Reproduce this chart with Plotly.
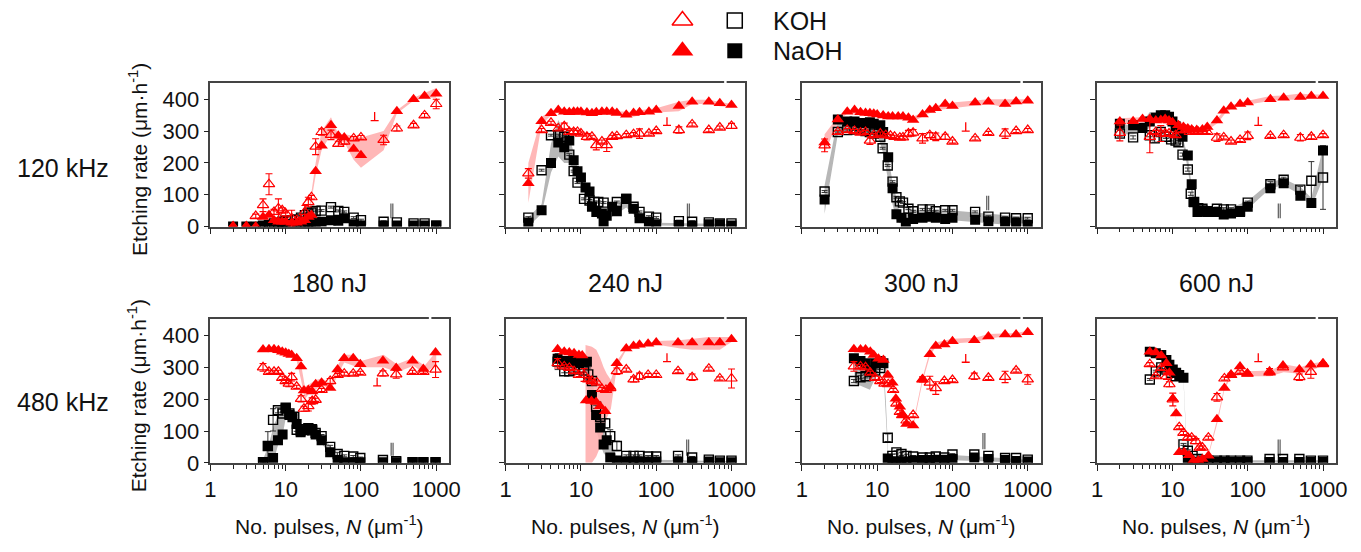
import plotly.graph_objects as go

# ---------------- DATA ----------------
# Panel a: 120 kHz, 180 nJ
a_kt_N = [2, 3, 4, 5, 6, 7, 8, 9, 10, 12, 14, 16, 18, 20, 22, 25, 30, 40, 50, 60, 80, 100, 200, 300, 500, 700, 1000]
a_kt = [0, 0, 33, 67, 133, 46, 57, 51, 41, 26, 20, 20, 46, 77, 92, 251, 297, 288, 260, 267, 277, 280, 272, 308, 318, 349, 385]
a_kt_err = [2, 2, 6, 20, 33, 8, 30, 8, 8, 25, 6, 6, 20, 15, 6, 25, 10, 15, 8, 8, 6, 6, 15, 8, 6, 6, 15]
a_nt_N = [2, 3, 4, 5, 6, 7, 8, 9, 10, 12, 14, 16, 18, 20, 22, 25, 30, 40, 50, 60, 80, 100, 300, 500, 700, 1000]
a_nt = [0, 0, 0, 30, 36, 20, 15, 15, 15, 12, 12, 15, 20, 30, 36, 174, 254, 318, 285, 280, 244, 224, 362, 400, 410, 417]
a_ks_N = [5, 6, 7, 8, 9, 10, 12, 14, 16, 18, 20, 22, 25, 30, 40, 50, 60, 80, 100, 200, 300, 500, 700, 1000]
a_ks = [3, 5, 10, 12, 15, 18, 20, 22, 28, 36, 41, 44, 49, 50, 61, 49, 46, 28, 20, 15, 13, 10, 10, 3]
a_ns_N = [2, 3, 4, 5, 6, 7, 8, 9, 10, 12, 14, 16, 18, 20, 22, 25, 30, 40, 50, 60, 80, 100, 200, 300, 500, 700, 1000]
a_ns = [0, 0, 0, 2, 3, 4, 5, 6, 8, 5, 8, 8, 10, 10, 10, 10, 15, 20, 18, 26, 7, 3, 3, 3, 3, 3, 3]
a_pink_N = [20, 25, 30, 40, 50, 60, 80, 100, 200, 300, 500, 700, 1000]
a_pink_lo = [25, 160, 240, 290, 270, 265, 210, 185, 240, 355, 395, 405, 405]
a_pink_hi = [40, 200, 300, 343, 290, 290, 285, 280, 300, 365, 405, 420, 435]
a_grey_N, a_grey_lo, a_grey_hi = [], [], []

# Panel b: 120 kHz, 240 nJ
b_nt_N = [2, 3, 4, 5, 6, 7, 8, 9, 10, 12, 14, 16, 19, 22, 26, 30, 40, 50, 60, 80, 100, 200, 300, 500, 700, 1000]
b_nt = [136, 331, 356, 366, 361, 359, 361, 361, 361, 358, 356, 359, 361, 361, 361, 357, 351, 357, 359, 361, 366, 379, 392, 392, 387, 382]
b_kt_N = b_nt_N
b_kt = [167, 303, 326, 308, 315, 297, 297, 297, 292, 282, 282, 256, 267, 256, 282, 284, 287, 290, 292, 292, 300, 303, 321, 303, 311, 316]
b_kt_err = [15, 5, 5, 5, 10, 5, 10, 5, 5, 10, 5, 15, 5, 20, 5, 5, 5, 5, 15, 5, 5, 10, 5, 5, 5, 8]
b_ks_N = [2, 3, 4, 5, 6, 7, 8, 9, 11, 13, 15, 17, 20, 30, 40, 50, 60, 80, 100, 200, 300, 500, 700, 1000]
b_ks = [28, 177, 287, 287, 282, 226, 174, 138, 87, 82, 77, 77, 75, 77, 87, 62, 46, 31, 28, 17, 15, 13, 10, 10]
b_ns_N = [2, 3, 4, 5, 6, 7, 8, 9, 10, 11.5, 13, 14, 16, 19, 20, 22, 26, 30, 40, 50, 60, 80, 100, 200, 300, 500, 700, 1000]
b_ns = [13, 51, 200, 264, 249, 270, 208, 174, 154, 123, 110, 62, 46, 41, 15, 34, 62, 48, 87, 56, 26, 15, 7, 5, 3, 7, 7, 3]
b_pink_N = [2, 3, 4, 5, 10, 20, 30, 40, 50, 60, 100, 200, 300, 500, 700, 1000]
b_pink_lo = [75, 320, 350, 358, 355, 355, 350, 345, 345, 350, 358, 362, 385, 385, 378, 375]
b_pink_hi = [200, 345, 362, 370, 365, 365, 362, 360, 360, 365, 372, 392, 398, 398, 392, 385]
b_grey_N = [2, 3, 4, 5, 6, 7, 8, 9, 10, 12, 14, 20, 30, 40, 60, 100, 1000]
b_grey_lo = [0, 40, 170, 220, 200, 200, 180, 160, 140, 100, 50, 15, 40, 60, 20, 3, 0]
b_grey_hi = [30, 70, 260, 335, 300, 290, 230, 185, 160, 130, 75, 45, 65, 95, 40, 12, 8]

# Panel c: 120 kHz, 300 nJ
c_nt_N = [2, 3, 4, 5, 6, 7, 8, 9, 10, 12, 14, 16, 19, 22, 26, 30, 40, 50, 60, 80, 100, 200, 300, 500, 700, 1000]
c_nt = [264, 336, 361, 366, 359, 357, 356, 354, 352, 349, 346, 346, 346, 346, 342, 335, 352, 366, 372, 385, 379, 390, 392, 385, 393, 395]
c_kt_N = [2, 3, 4, 5, 6, 7, 8, 9, 11, 13, 15, 17, 20, 22, 26, 30, 40, 50, 60, 80, 100, 200, 300, 500, 700, 1000]
c_kt = [255, 297, 303, 300, 295, 297, 270, 287, 292, 287, 285, 282, 279, 280, 292, 295, 277, 287, 282, 282, 267, 277, 294, 292, 300, 303]
c_kt_err = [20, 5, 5, 5, 5, 5, 12, 5, 5, 5, 5, 5, 5, 5, 10, 10, 15, 8, 12, 8, 5, 5, 5, 15, 5, 5]
c_ks_N = [2, 3, 4, 5, 6, 7, 8, 9, 11, 11.8, 13.8, 16, 18, 20, 22, 26, 30, 40, 50, 60, 80, 100, 200, 300, 500, 700, 1000]
c_ks = [110, 297, 303, 305, 308, 300, 297, 292, 282, 246, 192, 141, 92, 79, 75, 56, 48, 54, 54, 48, 51, 51, 46, 31, 28, 26, 26]
c_ns_N = [2, 3, 4, 5, 6, 7, 8, 9, 11, 12, 14, 16, 18, 21, 24, 30, 40, 50, 60, 80, 100, 200, 300, 500, 700, 1000]
c_ns = [85, 336, 330, 330, 325, 325, 328, 323, 318, 297, 218, 120, 39, 28, 12, 24, 28, 31, 28, 24, 28, 21, 17, 15, 13, 5]
c_pink_N = [2, 3, 4, 10, 20, 30, 40, 60, 100, 200, 300, 500, 700, 1000]
c_pink_lo = [230, 330, 355, 345, 340, 330, 345, 365, 370, 380, 385, 375, 385, 390]
c_pink_hi = [290, 345, 365, 358, 352, 345, 360, 380, 390, 395, 400, 400, 400, 400]
c_grey_N = [2, 3, 4, 6, 8, 10, 11, 12, 14, 16, 18, 20, 30, 100, 1000]
c_grey_lo = [40, 290, 300, 300, 295, 285, 260, 230, 150, 70, 20, 10, 20, 20, 0]
c_grey_hi = [130, 340, 335, 330, 330, 325, 315, 300, 220, 140, 90, 40, 50, 50, 30]

# Panel d: 120 kHz, 600 nJ
d_nt_N = [2, 3, 4, 5, 6, 7, 8, 9, 10, 12, 14, 16, 18, 21, 25, 29, 39, 48, 60, 79, 100, 200, 300, 500, 700, 1000]
d_nt = [330, 331, 338, 338, 333, 335, 338, 333, 328, 318, 313, 308, 305, 303, 305, 313, 333, 364, 376, 385, 390, 400, 405, 407, 410, 410]
d_kt_N = [2, 5, 6, 7, 8, 9, 11, 13, 15, 17, 19, 22, 25, 29, 39, 48, 60, 79, 100, 200, 300, 500, 700, 1000]
d_kt = [294, 282, 297, 292, 292, 292, 287, 303, 303, 297, 297, 297, 297, 297, 279, 280, 267, 272, 285, 285, 287, 279, 282, 287]
d_kt_err = [25, 50, 5, 25, 8, 5, 5, 5, 5, 8, 5, 5, 5, 5, 12, 5, 5, 5, 12, 5, 5, 10, 6, 5]
d_ks_N = [2, 3, 5, 5.8, 7, 8.2, 9.6, 11, 12, 13.6, 16, 17.5, 19.4, 22, 25, 29, 39, 48, 60, 79, 100, 200, 300, 500, 700, 1000]
d_ks = [292, 280, 287, 277, 297, 282, 274, 270, 265, 226, 179, 103, 77, 58, 56, 48, 56, 54, 54, 48, 75, 133, 147, 116, 144, 154]
d_ks_err = [10, 5, 5, 12, 5, 5, 5, 5, 5, 5, 5, 5, 5, 5, 5, 5, 5, 5, 5, 5, 5, 8, 8, 10, 60, 100]
d_ns_N = [2, 3, 4, 5, 6, 7, 8, 9, 10, 11, 12, 13.6, 16, 18, 19, 21.5, 25, 29, 39, 48, 60, 79, 100, 200, 300, 500, 700, 1000]
d_ns = [323, 318, 310, 330, 342, 350, 350, 345, 330, 315, 305, 282, 223, 133, 77, 46, 51, 46, 46, 38, 41, 46, 62, 120, 136, 97, 74, 239]
d_pink_N = [2, 5, 10, 20, 30, 40, 50, 60, 100, 200, 300, 500, 700, 1000]
d_pink_lo = [320, 330, 320, 298, 305, 325, 355, 370, 383, 395, 398, 398, 405, 405]
d_pink_hi = [340, 345, 340, 310, 318, 340, 370, 382, 395, 410, 412, 418, 415, 415]
d_grey_N = [2, 3, 4, 5, 6, 7, 8, 9, 10, 11, 12, 14, 16, 18, 20, 25, 40, 60, 100, 200, 300, 500, 700, 1000]
d_grey_lo = [290, 290, 300, 310, 330, 330, 330, 320, 315, 300, 280, 250, 180, 100, 55, 40, 40, 35, 55, 120, 130, 100, 60, 150]
d_grey_hi = [320, 320, 330, 360, 360, 355, 350, 345, 335, 320, 300, 270, 220, 130, 80, 60, 60, 60, 80, 140, 150, 125, 90, 250]

# Panel e: 480 kHz, 180 nJ
e_nt_N = [5, 6, 7, 8, 9, 10, 11, 12, 14, 16, 17.5, 20, 22.5, 25, 30, 39, 49, 60, 79, 98, 196, 294, 485, 675, 980]
e_nt = [356, 357, 357, 354, 349, 346, 342, 339, 329, 303, 227, 229, 224, 247, 252, 235, 293, 329, 329, 310, 321, 298, 321, 295, 347]
e_kt_N = e_nt_N
e_kt = [300, 286, 286, 286, 267, 257, 249, 269, 239, 201, 170, 178, 194, 198, 229, 257, 276, 280, 280, 283, 281, 278, 286, 286, 293]
e_kt_err = [12, 5, 5, 5, 5, 5, 10, 12, 5, 10, 8, 15, 10, 5, 5, 8, 5, 5, 5, 5, 8, 12, 5, 5, 25]
e_ks_N = [5, 5.8, 6.8, 7.9, 9.1, 10, 11.2, 13, 14, 15.8, 17.5, 20, 22.5, 25, 30, 39, 49, 60, 79, 98, 196, 294, 485, 675, 980]
e_ks = [2, 53, 135, 165, 155, 173, 155, 145, 104, 102, 106, 109, 102, 94, 84, 50, 28, 22, 20, 15, 9, 5, 2, 2, 2]
e_ks_err = [2, 45, 35, 8, 5, 5, 5, 5, 5, 5, 5, 5, 5, 5, 5, 5, 5, 3, 3, 3, 3, 3, 2, 2, 2]
e_ns_N = [5, 5.8, 6.8, 7.9, 9.1, 10, 11.2, 12.3, 14, 15.8, 17.5, 20, 22.5, 25, 30, 39, 49, 60, 79, 98, 196, 294, 485, 675, 980]
e_ns = [2, 53, 15, 71, 89, 170, 150, 143, 122, 96, 102, 104, 106, 89, 71, 33, 9, 2, 2, 2, 2, 2, 2, 2, 2]
e_pink_N = [5, 10, 14, 16, 18, 20, 25, 30, 40, 50, 60, 80, 100, 200, 300, 500, 700, 1000]
e_pink_lo = [350, 340, 320, 260, 200, 215, 230, 245, 230, 280, 315, 305, 300, 300, 285, 305, 280, 310]
e_pink_hi = [362, 352, 335, 310, 240, 245, 260, 265, 250, 310, 340, 340, 320, 340, 310, 330, 305, 350]
e_grey_N = [5, 6, 7, 8, 9, 10, 11, 12, 14, 16, 18, 20, 25, 30, 40, 50, 60, 80, 100]
e_grey_lo = [0, 0, 10, 60, 80, 140, 130, 130, 100, 80, 95, 90, 80, 60, 25, 5, 0, 0, 0]
e_grey_hi = [10, 60, 120, 150, 160, 175, 165, 150, 130, 115, 115, 110, 100, 85, 50, 25, 15, 8, 5]

# Panel f: 480 kHz, 240 nJ
f_nt_N = [4.9, 6, 7, 8.1, 9.4, 10.4, 11.7, 13.8, 15.9, 18, 21, 24.5, 30, 40, 50, 60, 78, 100, 195, 300, 500, 700, 1000]
f_nt = [357, 349, 347, 344, 339, 337, 196, 194, 191, 178, 162, 239, 313, 359, 367, 371, 374, 378, 378, 378, 378, 378, 388]
f_kt_N = [4.9, 6, 7, 8.1, 9.4, 11, 12.5, 14, 16.3, 19, 21.5, 24.5, 30, 40, 50, 60, 78, 100, 195, 300, 500, 700, 1000]
f_kt = [313, 303, 298, 288, 276, 276, 262, 257, 252, 232, 229, 235, 288, 293, 262, 272, 276, 276, 288, 269, 296, 265, 265]
f_kt_err = [15, 5, 5, 5, 5, 20, 5, 5, 5, 5, 5, 5, 10, 5, 8, 10, 5, 5, 5, 10, 5, 5, 30]
f_ks_N = [4.9, 6, 7, 8.1, 9.4, 11, 12.5, 14, 15.9, 18, 21, 24.5, 30, 40, 50, 60, 78, 100, 195, 300, 500, 700, 1000]
f_ks = [318, 288, 288, 293, 298, 290, 278, 257, 176, 145, 124, 84, 53, 22, 22, 22, 20, 20, 22, 17, 10, 7, 7]
f_ks_err = [25, 5, 5, 5, 5, 5, 20, 5, 5, 15, 15, 20, 15, 3, 3, 3, 3, 3, 3, 3, 3, 3, 3]
f_ns_N = [4.9, 6, 7, 8.1, 9.4, 11, 12, 14, 15.9, 18, 20, 22, 24.5, 30, 40, 50, 60, 78, 100, 195, 300, 500, 700, 1000]
f_ns = [327, 320, 316, 320, 313, 315, 318, 213, 150, 111, 58, 71, 17, 7, 4, 4, 4, 4, 4, 4, 4, 4, 2, 2]
f_pink_N = [11.5, 14, 16, 18, 20, 22, 25, 30, 40, 100, 200, 300, 500, 700, 1000]
f_pink_lo = [0, 0, 20, 50, 100, 140, 170, 300, 355, 372, 360, 355, 355, 355, 380]
f_pink_hi = [370, 365, 355, 330, 300, 280, 260, 320, 362, 383, 385, 390, 395, 395, 395]
f_grey_N = [5, 8, 11, 12, 14, 16, 18, 20, 25, 30, 40, 100, 1000]
f_grey_lo = [310, 300, 300, 250, 150, 100, 60, 30, 5, 0, 0, 0, 0]
f_grey_hi = [330, 325, 320, 320, 260, 190, 150, 110, 60, 20, 10, 10, 5]

# Panel g: 480 kHz, 300 nJ
g_nt_N = [4.9, 6, 7, 8.1, 9, 10.4, 12.1, 13.8, 15.9, 17.7, 20, 22, 24.5, 30, 40, 50, 60, 78, 100, 195, 300, 500, 700, 1000]
g_nt = [357, 356, 356, 349, 339, 327, 323, 276, 252, 201, 176, 150, 122, 117, 262, 341, 367, 372, 382, 385, 397, 403, 403, 410]
g_kt_N = [4.9, 6, 7, 8.1, 9.4, 11, 12.5, 14, 16.3, 18, 20, 21.5, 24.5, 30, 40, 50, 60, 78, 100, 195, 300, 500, 700, 1000]
g_kt = [303, 303, 300, 283, 267, 257, 249, 247, 229, 186, 160, 150, 133, 150, 262, 252, 235, 257, 260, 272, 267, 270, 290, 262]
g_kt_err = [15, 5, 5, 5, 5, 5, 5, 5, 5, 5, 5, 5, 5, 5, 8, 20, 20, 5, 5, 10, 5, 18, 5, 15]
g_ks_N = [4.9, 6, 7, 8.1, 9.4, 11, 13.8, 15.9, 18, 21, 24.5, 30, 40, 50, 60, 78, 100, 195, 300, 500, 700, 1000]
g_ks = [257, 269, 272, 288, 290, 298, 79, 22, 33, 28, 22, 20, 17, 17, 20, 17, 26, 26, 22, 15, 15, 10]
g_ks_err = [5, 5, 5, 5, 5, 5, 12, 5, 5, 5, 5, 3, 3, 3, 3, 3, 3, 3, 3, 3, 3, 3]
g_ns_N = [4.9, 6, 7, 8.1, 9.4, 11, 12.1, 13.8, 15.9, 18, 21, 24.5, 30, 40, 50, 60, 78, 100, 195, 300, 500, 700, 1000]
g_ns = [329, 320, 313, 286, 313, 320, 313, 14, 2, 2, 4, 4, 7, 9, 9, 10, 10, 12, 17, 12, 9, 6, 4]
g_pink_N = [10, 12, 14, 16, 18, 20, 22, 25, 30, 40, 50, 60, 100, 200, 300, 500, 700, 1000]
g_pink_lo = [322, 318, 270, 245, 195, 170, 145, 117, 112, 255, 335, 365, 375, 380, 390, 398, 400, 403]
g_pink_hi = [332, 328, 282, 258, 207, 182, 157, 128, 125, 268, 350, 378, 390, 393, 405, 408, 408, 415]
g_grey_N = [5, 8, 11, 12, 13, 14, 20, 100, 1000]
g_grey_lo = [250, 230, 300, 300, 150, 10, 0, 8, 0]
g_grey_hi = [330, 320, 320, 320, 200, 30, 10, 25, 10]

# Panel h: 480 kHz, 600 nJ
h_nt_N = [5, 6, 7.1, 8.3, 9.1, 10.1, 11.2, 12.3, 14.3, 16.6, 19, 22, 25, 30, 39, 49, 60, 79, 99, 195, 294, 485, 690, 1000]
h_nt = [349, 347, 337, 313, 283, 201, 155, 33, 33, 24, 7, 7, 12, 22, 137, 235, 276, 303, 280, 283, 306, 293, 308, 313]
h_kt_N = [5, 6, 7.1, 8.3, 9.1, 10.1, 12.3, 14, 16, 18, 20.5, 23, 25, 30, 39, 49, 60, 79, 99, 195, 294, 485, 690, 1000]
h_kt = [310, 272, 298, 272, 247, 199, 112, 94, 79, 79, 68, 48, 48, 79, 206, 265, 276, 286, 280, 286, 300, 269, 286, 310]
h_kt_err = [5, 5, 5, 10, 8, 20, 5, 5, 5, 5, 8, 5, 5, 5, 12, 5, 5, 5, 5, 10, 5, 10, 20, 5]
h_ks_N = [5, 6, 7.1, 8.3, 9.6, 11, 14, 16, 18.5, 21.5, 25, 30, 39, 49, 60, 79, 99, 195, 294, 485, 690, 1000]
h_ks = [262, 288, 300, 293, 283, 272, 58, 38, 22, 12, 7, 7, 7, 7, 7, 7, 7, 12, 12, 12, 7, 7]
h_ns_N = [5, 6, 7.1, 8.3, 9.1, 10.1, 11.2, 12.3, 14, 16, 18.5, 21.5, 25, 30, 39, 49, 60, 79, 99, 195, 294, 485, 690, 1000]
h_ns = [349, 344, 339, 323, 308, 293, 283, 276, 267, 7, 2, 3, 3, 3, 3, 3, 3, 3, 3, 3, 3, 3, 3, 3]
h_pink_N = [10, 11, 12, 14, 16, 19, 22, 25, 30, 40, 49, 60, 79, 100, 200, 300, 500, 700, 1000]
h_pink_lo = [195, 150, 30, 30, 20, 5, 5, 10, 20, 130, 230, 270, 275, 272, 272, 285, 280, 290, 305]
h_pink_hi = [205, 160, 40, 40, 30, 12, 12, 18, 28, 145, 240, 282, 292, 288, 290, 310, 300, 312, 318]
h_grey_N = [5, 8, 12, 14, 15, 16, 20, 100, 1000]
h_grey_lo = [340, 320, 270, 260, 100, 5, 0, 0, 0]
h_grey_hi = [355, 330, 280, 270, 120, 15, 8, 8, 8]

# stray marks (N, top, bottom) and double bars (N, low, high)
perp_marks = [(152, 360, 333), (139, 343, 318), (150, 328, 300), (138, 345, 318),
              (164, 267, 242), (139, 344, 318), (150, 342, 316), (138, 344, 318)]
bar_marks = [(250, 26, 72), (260, 26, 72), (285, 51, 97), (255, 26, 72),
             (252, 22, 63), (254, 22, 73), (254, 43, 94), (254, 22, 73)]
frame_gap_N = 830

row_labels = ["120 kHz", "480 kHz"]
col_labels = ["180 nJ", "240 nJ", "300 nJ", "600 nJ"]
x_ticks = [1, 10, 100, 1000]
y_ticks = [0, 100, 200, 300, 400]
legend_labels = ["KOH", "NaOH"]

# ---------------- FIGURE ----------------
W, H = 1361, 552            # reference pixel space used for placement
col_px = [(207, 449), (506, 748), (806, 1048), (1105, 1347)]
row_px = [(85, 232), (327, 474)]
FONT = "Liberation Sans, Arial, sans-serif"
RED = "#ff0000"
PINK = "rgba(255,170,170,0.85)"
GREY = "rgba(170,170,170,0.85)"
AX = "#444444"

g = globals()
panels = []
for k in "abcdefgh":
    panels.append(dict(
        kt=(g[k + "_kt_N"], g[k + "_kt"], g[k + "_kt_err"]),
        nt=(g[k + "_nt_N"], g[k + "_nt"]),
        ks=(g[k + "_ks_N"], g[k + "_ks"], g.get(k + "_ks_err")),
        ns=(g[k + "_ns_N"], g[k + "_ns"]),
        pink=(g[k + "_pink_N"], g[k + "_pink_lo"], g[k + "_pink_hi"]),
        grey=(g[k + "_grey_N"], g[k + "_grey_lo"], g[k + "_grey_hi"]),
    ))

minor_vals = [m * 10 ** d for d in range(0, 4) for m in range(2, 10)]

fig = go.Figure()
shapes = []


def band(Ns, lo, hi, color, xa, ya):
    if not Ns:
        return
    fig.add_trace(go.Scatter(x=list(Ns) + list(Ns)[::-1], y=list(hi) + list(lo)[::-1],
                             fill="toself", fillcolor=color, line=dict(width=0),
                             mode="lines", hoverinfo="skip", showlegend=False,
                             xaxis=xa, yaxis=ya))


for i, p in enumerate(panels):
    r, c = divmod(i, 4)
    n = "" if i == 0 else str(i + 1)
    xa, ya = "x" + n, "y" + n
    band(*p["grey"], GREY, xa, ya)
    band(*p["pink"], PINK, xa, ya)

    # double bars and stray mark
    bN, bl, bh = bar_marks[i]
    fig.add_trace(go.Scatter(x=[bN, bN, None, bN * 1.06, bN * 1.06], y=[bl, bh, None, bl, bh],
                             mode="lines", line=dict(color="#666666", width=1.3),
                             showlegend=False, xaxis=xa, yaxis=ya))
    pN, pt, pb = perp_marks[i]
    fig.add_trace(go.Scatter(x=[pN, pN, pN / 1.13, pN * 1.13], y=[pt, pb, pb, pb],
                             mode="lines", line=dict(color=RED, width=1.3),
                             showlegend=False, xaxis=xa, yaxis=ya))

    ksN, ks, kse = p["ks"]
    fig.add_trace(go.Scatter(x=ksN, y=ks, mode="markers",
                             marker=dict(symbol="square-open", size=9, color="black", line=dict(width=1.4)),
                             error_y=dict(type="data", array=kse if kse else [3] * len(ks),
                                          color="#333333", thickness=1, width=3),
                             showlegend=False, xaxis=xa, yaxis=ya))
    nsN, ns = p["ns"]
    fig.add_trace(go.Scatter(x=nsN, y=ns, mode="markers",
                             marker=dict(symbol="square", size=10, color="black"),
                             showlegend=False, xaxis=xa, yaxis=ya))
    ktN, kt, kte = p["kt"]
    fig.add_trace(go.Scatter(x=ktN, y=kt, mode="markers",
                             marker=dict(symbol="triangle-up-open", size=10, color=RED, line=dict(width=1.2)),
                             error_y=dict(type="data", array=kte, color=RED, thickness=1.1, width=3.5),
                             showlegend=False, xaxis=xa, yaxis=ya))
    ntN, nt = p["nt"]
    fig.add_trace(go.Scatter(x=ntN, y=nt, mode="markers",
                             marker=dict(symbol="triangle-up", size=11, color=RED),
                             showlegend=False, xaxis=xa, yaxis=ya))

    x0, x1 = col_px[c]
    y0, y1 = row_px[r]
    fig.layout["xaxis" + n] = dict(
        type="log", range=[0, 3.175], domain=[x0 / W, x1 / W], anchor=ya,
        showline=True, mirror=True, linecolor=AX, linewidth=1.5,
        ticks="outside", ticklen=6, tickwidth=1.2, tickcolor="#222",
        tickvals=x_ticks, ticktext=[str(v) for v in x_ticks], showticklabels=(r == 1),
        minor=dict(tickvals=minor_vals, ticks="outside", ticklen=4, tickwidth=1, tickcolor="#222", showgrid=False),
        showgrid=False, zeroline=False, tickfont=dict(size=22, color="#111"))
    fig.layout["yaxis" + n] = dict(
        range=[0, 451], domain=[1 - y1 / H, 1 - y0 / H], anchor=xa,
        showline=True, mirror=True, linecolor=AX, linewidth=1.5,
        ticks="outside", ticklen=5, tickwidth=1.2, tickcolor="#222",
        tickvals=y_ticks, showticklabels=(c == 0),
        showgrid=False, zeroline=False, tickfont=dict(size=22, color="#111"))
    # small white break in the top frame
    shapes.append(dict(type="line", xref=xa, yref="paper", x0=frame_gap_N, x1=frame_gap_N,
                       y0=1 - (y0 + 3) / H, y1=1 - (y0 - 3) / H,
                       line=dict(color="white", width=2.5), layer="above"))

# legend on an invisible full-page axis
fig.add_trace(go.Scatter(x=[685], y=[21], mode="markers",
                         marker=dict(symbol="triangle-up-open", size=18, color=RED, line=dict(width=1.5)),
                         showlegend=False, xaxis="x9", yaxis="y9"))
fig.add_trace(go.Scatter(x=[685], y=[52], mode="markers",
                         marker=dict(symbol="triangle-up", size=19, color=RED),
                         showlegend=False, xaxis="x9", yaxis="y9"))
fig.add_trace(go.Scatter(x=[738], y=[21], mode="markers",
                         marker=dict(symbol="square-open", size=15, color="black", line=dict(width=1.5)),
                         showlegend=False, xaxis="x9", yaxis="y9"))
fig.add_trace(go.Scatter(x=[738], y=[52], mode="markers",
                         marker=dict(symbol="square", size=15, color="black"),
                         showlegend=False, xaxis="x9", yaxis="y9"))
fig.layout["xaxis9"] = dict(domain=[0, 1], range=[0, W], visible=False, anchor="y9")
fig.layout["yaxis9"] = dict(domain=[0, 1], range=[H, 0], visible=False, anchor="x9")

ann = []


def text(x, y, s, size, xanchor="center", angle=0):
    ann.append(dict(x=x / W, y=1 - y / H, xref="paper", yref="paper", text=s, showarrow=False,
                    xanchor=xanchor, yanchor="middle", textangle=angle,
                    font=dict(size=size, color="#111", family=FONT)))


text(775, 21, legend_labels[0], 25, "left")
text(775, 52, legend_labels[1], 25, "left")
text(58, 172, row_labels[0], 25)
text(58, 412, row_labels[1], 25)
for c in range(4):
    cx = (col_px[c][0] + col_px[c][1]) / 2
    text(cx, 290, col_labels[c], 25)
    text(cx, 538, "No. pulses, <i>N</i> (μm<sup>-1</sup>)", 21)
for r in range(2):
    cy = (row_px[r][0] + row_px[r][1]) / 2 + 5
    text(133, cy, "Etching rate (μm·h<sup>-1</sup>)", 21, angle=-90)

fig.update_layout(width=W, height=H, autosize=False, margin=dict(l=0, r=0, t=0, b=0),
                  paper_bgcolor="white", plot_bgcolor="rgba(0,0,0,0)",
                  font=dict(family=FONT, color="#111"), annotations=ann, shapes=shapes,
                  showlegend=False)

# make the figure exactly fill the browser viewport (all placement is in paper fractions)
fit_js = ("document.documentElement.style.margin='0';document.body.style.margin='0';"
          "document.documentElement.style.overflow='hidden';document.body.style.overflow='hidden';"
          "var gdiv=document.querySelector('.plotly-graph-div');"
          "if(gdiv){var vw=window.innerWidth, vh=window.innerHeight;"
          "gdiv.style.width=vw+'px';gdiv.style.height=vh+'px';"
          "Plotly.relayout(gdiv,{width:vw,height:vh});}")

fig.write_html("out.html", config={"displayModeBar": False}, post_script=fit_js)
